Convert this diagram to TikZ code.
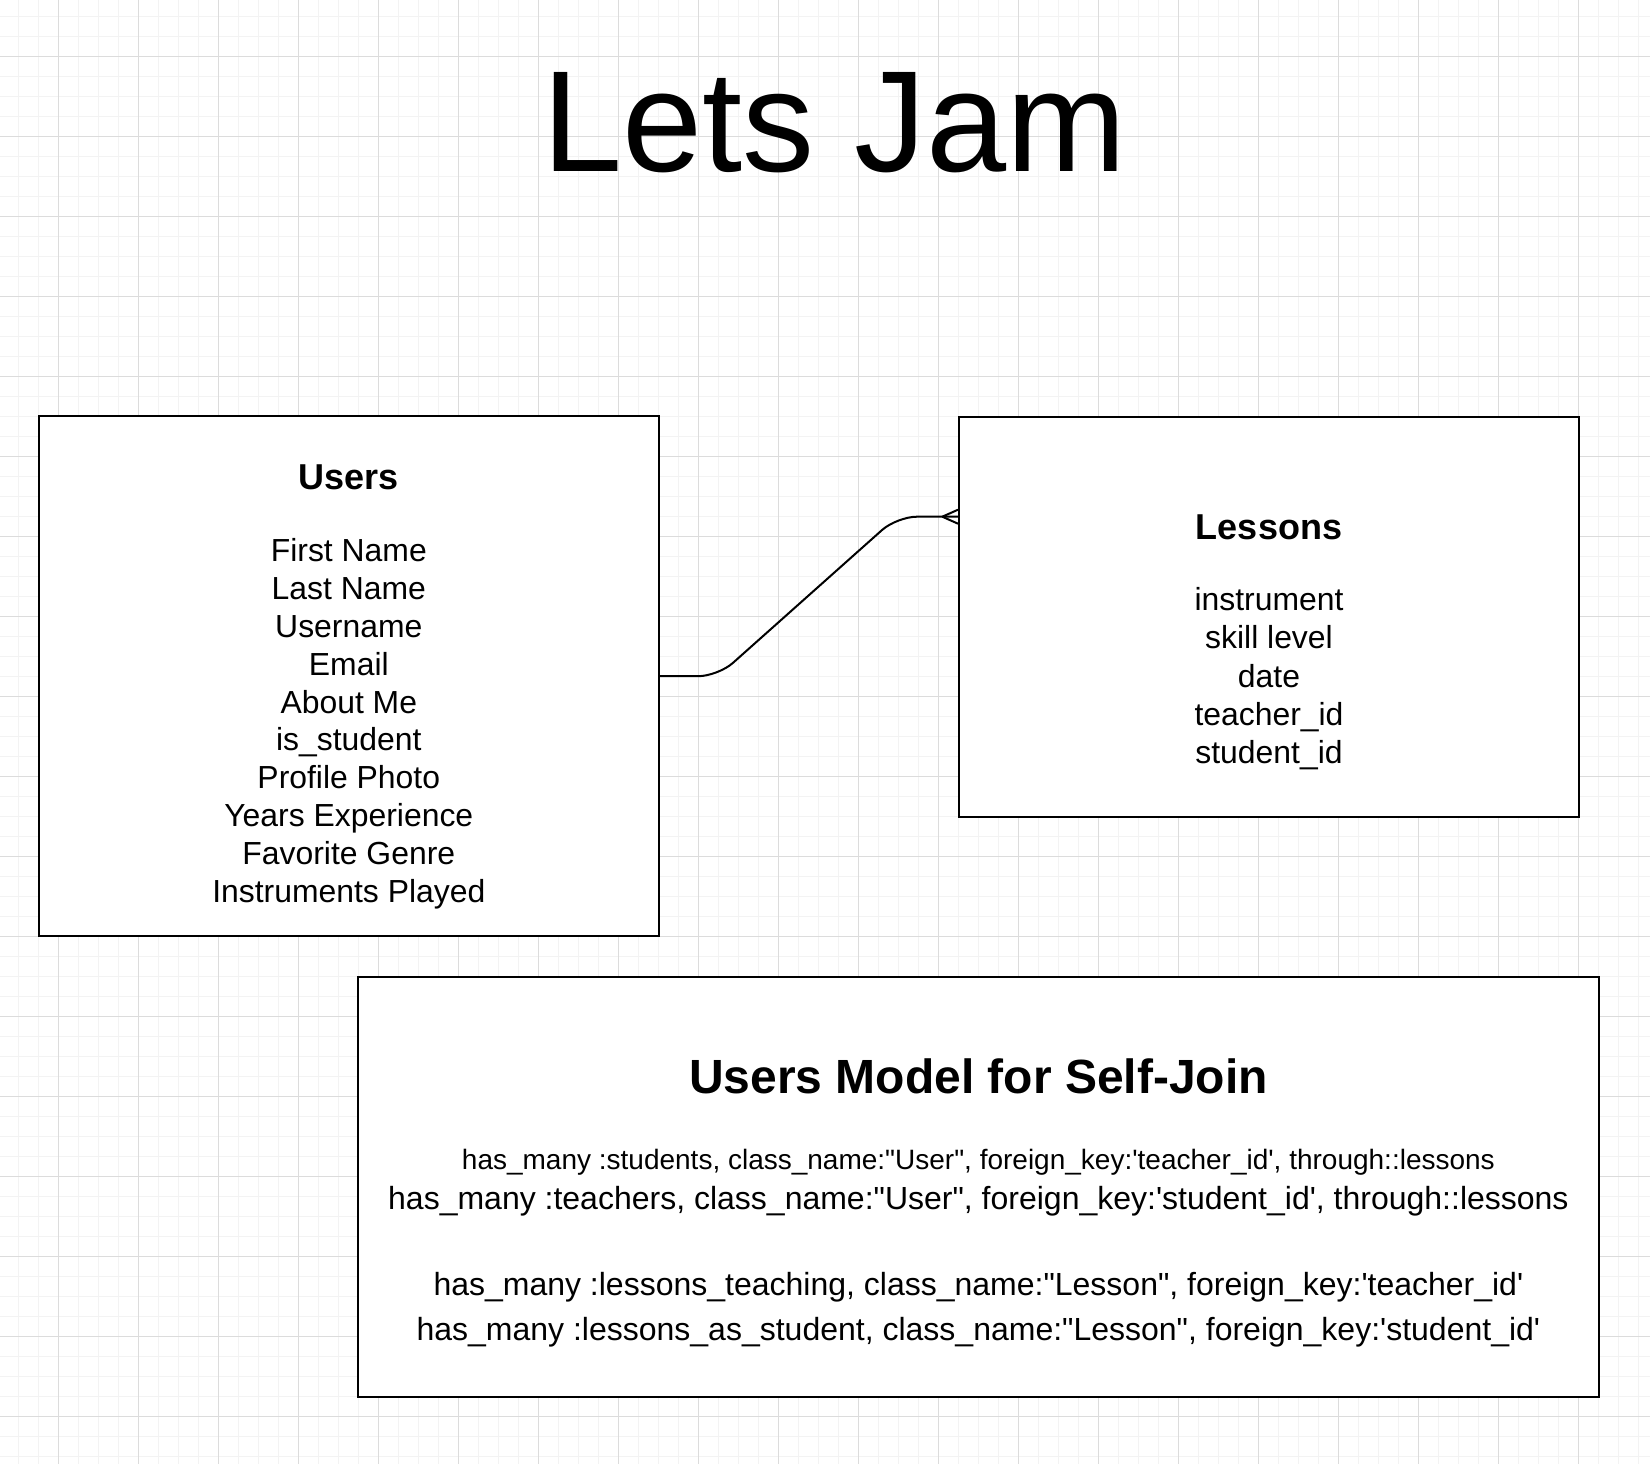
\documentclass[tikz,border=0pt]{standalone}
\usepackage{fontspec}
\setmainfont{Liberation Sans}[Ligatures=TeXOff]
\usetikzlibrary{calc}
\definecolor{gridminor}{HTML}{F3F3F3}
\definecolor{gridmajor}{HTML}{DCDCDC}
\begin{document}
\begin{tikzpicture}[x=1pt,y=-1pt,
  minorline/.style={draw=gridminor, line width=1.2pt},
  majorline/.style={draw=gridmajor, line width=1pt},
  entity/.style={draw, line width=2pt, fill=white, rectangle, inner sep=0pt},
  conn/.style={draw, line width=2pt, rounded corners=20pt},
  crowline/.style={draw, line width=2pt},
  titletxt/.style={anchor=base, inner sep=0pt, font=\fontsize{144}{160}\selectfont},
  headtxt/.style={anchor=base, inner sep=0pt, font=\bfseries\fontsize{36}{40}\selectfont},
  bighead/.style={anchor=base, inner sep=0pt, font=\bfseries\fontsize{48}{52}\selectfont},
  itemtxt/.style={anchor=base, inner sep=0pt, font=\fontsize{31.9}{38}\selectfont},
  modeltxt/.style={anchor=base, inner sep=0pt, font=\fontsize{32}{38}\selectfont},
  smalltxt/.style={anchor=base, inner sep=0pt, font=\fontsize{28}{32}\selectfont}
]
% background and grid
\fill[white] (0,0) rectangle (1650,1464);
\useasboundingbox (0,0) rectangle (1650,1464);
\foreach \i in {0,...,81} { \draw[minorline] ({18.3+20*\i},0) -- ({18.3+20*\i},1464); }
\foreach \j in {0,...,72} { \draw[minorline] (0,{16.5+20*\j}) -- (1650,{16.5+20*\j}); }
\foreach \i in {0,...,19} { \draw[majorline] ({58.3+80*\i},0) -- ({58.3+80*\i},1464); }
\foreach \j in {0,...,17} { \draw[majorline] (0,{56.5+80*\j}) -- (1650,{56.5+80*\j}); }

% title
\node[titletxt] (title) at (834.3,171.7) {Lets Jam};

% boxes
\node[entity, minimum width=619.8pt, minimum height=520.4pt] (users) at (348.8,676.2) {};
\node[entity, minimum width=620pt, minimum height=400pt] (lessons) at (1269,616.7) {};
\node[entity, minimum width=1240.7pt, minimum height=420pt] (model) at (978.4,1186.7) {};

% Users text
\node[headtxt] (usershead) at (348.8,489.3) {Users};
\foreach \t [count=\k from 0] in {First Name,Last Name,Username,Email,About Me,is\_student,Profile Photo,Years Experience,Favorite Genre,Instruments Played}
  { \node[itemtxt] (uitem\k) at (348.8,{561.4+37.9*\k}) {\t}; }

% Lessons text
\node[headtxt] (lessonshead) at (1269,539.3) {Lessons};
\foreach \t [count=\k from 0] in {instrument,skill level,date,teacher\_id,student\_id}
  { \node[itemtxt] (litem\k) at (1269,{610.7+38.15*\k}) {\t}; }

% Model text
\node[bighead] (modelhead) at (978.4,1093.3) {Users Model for Self-Join};
\node[smalltxt] (m1) at (978.4,1169.3) {has\_many :students, class\_name:"User", foreign\_key:'teacher\_id', through::lessons};
\node[modeltxt] (m2) at (978.4,1209.5) {has\_many :teachers, class\_name:"User", foreign\_key:'student\_id', through::lessons};
\node[modeltxt] (m3) at (978.4,1295) {has\_many :lessons\_teaching, class\_name:"Lesson", foreign\_key:'teacher\_id'};
\node[modeltxt] (m4) at (978.4,1340.5) {has\_many :lessons\_as\_student, class\_name:"Lesson", foreign\_key:'student\_id'};

% connector with crow's foot
\coordinate (ljoin) at (lessons.west |- 0,516.7);
\coordinate (cfoot) at ($(ljoin)+(-15.7,0)$);
\draw[conn] (users.east) -- (718,676.2) -- (897,516.7) -- (ljoin);
\draw[crowline] (cfoot) -- ($(ljoin)+(0,-7)$);
\draw[crowline] (cfoot) -- ($(ljoin)+(0,7)$);
\end{tikzpicture}
\end{document}
